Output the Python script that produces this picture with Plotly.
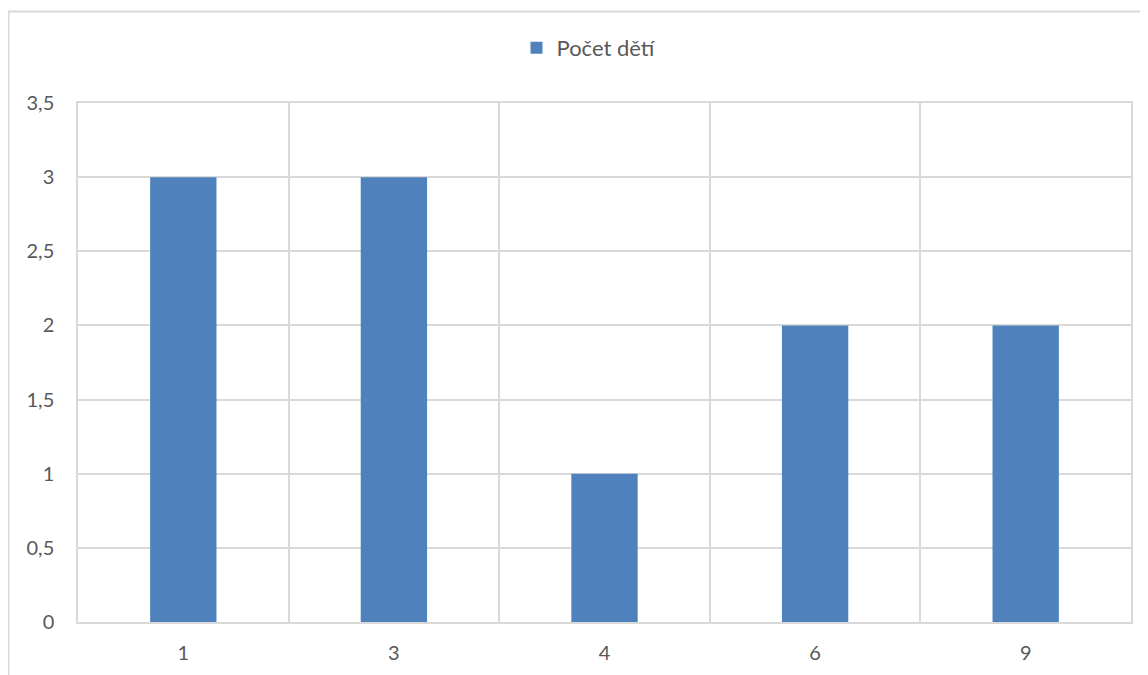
import plotly.graph_objects as go

categories = ["1", "3", "4", "6", "9"]
values = [3, 3, 1, 2, 2]
series_name = "Počet dětí"

# page is rendered with an 8px body margin; work in page pixels
OFF = 8
W, H = 1148 - OFF, 675 - OFF
L, T = 78 - OFF, 103 - OFF
R, B = 1148 - 1131, 675 - 622
pw, ph = W - L - R, H - T - B

def px_x(x):
    return (x - OFF - L) / pw

def px_y(y):
    return (H - B - (y - OFF)) / ph

fig = go.Figure()
fig.add_trace(go.Bar(
    x=categories, y=values, name=series_name,
    marker=dict(color="#4F81BD", line=dict(width=0)),
    showlegend=True,
))

grid = "#d9d9d9"
font = dict(family="Lato, Calibri, sans-serif", size=20, color="#595959")

fig.update_layout(
    width=W, height=H,
    margin=dict(l=L, r=R, t=T, b=B, autoexpand=False),
    paper_bgcolor="white", plot_bgcolor="white",
    separators=", ",
    font=font,
    bargap=0.685,
    showlegend=True,
    legend=dict(orientation="h", x=px_x(589), xanchor="center",
                y=px_y(48), yanchor="middle",
                font=dict(size=22, color="#595959"),
                itemwidth=30),
    xaxis=dict(type="category", tickson="boundaries", showgrid=True,
               gridcolor=grid, gridwidth=1.5, ticks="", showline=True,
               linecolor=grid, linewidth=1.5, mirror=True,
               tickfont=font, ticklabelstandoff=12, zeroline=False),
    yaxis=dict(range=[0, 3.5], dtick=0.5, showgrid=True, gridcolor=grid,
               gridwidth=1.5, showline=True, linecolor=grid, linewidth=1.5,
               mirror=True, ticks="", tickfont=font, zeroline=False,
               ticklabelstandoff=18),
)

# outer chart border (cropped on right and bottom)
fig.add_shape(type="line", xref="paper", yref="paper",
              x0=px_x(8), x1=px_x(1148 + 5), y0=px_y(11.5), y1=px_y(11.5),
              line=dict(color=grid, width=2))
fig.add_shape(type="line", xref="paper", yref="paper",
              x0=px_x(8.5), x1=px_x(8.5), y0=px_y(11.5), y1=px_y(675 + 5),
              line=dict(color=grid, width=2))

fig.write_html("out.html")
